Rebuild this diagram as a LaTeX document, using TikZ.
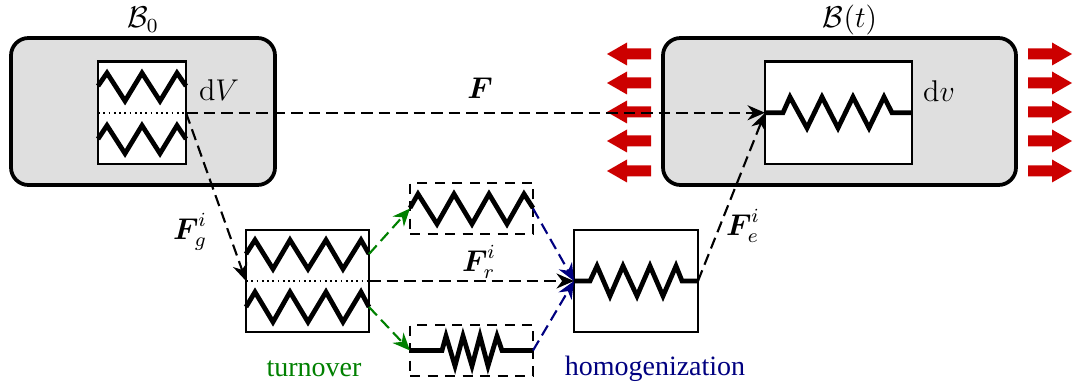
\documentclass[tikz,border=0pt]{standalone}
\usepackage{amsmath}
\usepackage[no-math]{fontspec}
\setmainfont{Liberation Serif}
\usetikzlibrary{fit,arrows.meta}
\definecolor{bodygrey}{HTML}{DFDFDF}
\definecolor{loadred}{HTML}{CC0000}
\definecolor{turngreen}{HTML}{008000}
\definecolor{homblue}{HTML}{000080}
\tikzset{
  every node/.style={font=\fontsize{11.2}{13}\selectfont},
  mathlabel/.style={font=\fontsize{12}{14}\selectfont},
  bodybox/.style={draw=black,fill=bodygrey,line width=1.5pt,rounded corners=7pt,inner sep=0pt,outer sep=0pt},
  cellbox/.style={draw=black,fill=white,line width=.85pt,inner sep=0pt,outer sep=0pt},
  dashbox/.style={draw=black,line width=.85pt,dash pattern=on 4pt off 3pt,inner sep=0pt,outer sep=0pt},
  springline/.style={line width=1.9pt,line join=miter,miter limit=10},
  link/.style={line width=.85pt,dash pattern=on 4.6pt off 2.4pt},
  tipk/.style={-{Stealth[length=7pt,width=6pt]}},
  loadarrow/.style={fill=loadred},
  splitline/.style={line width=.75pt,dash pattern=on .75pt off 1.35pt},
}
\begin{document}
\begin{tikzpicture}[x=.4pt,y=-.4pt]
\useasboundingbox (0,0) rectangle (1073,385);
% bodies
\node[bodybox,fit={(11,38)(275,185)}] (B0) {};
\node[bodybox,fit={(663,38)(1016,185)}] (Bt) {};
\node[cellbox,fit={(98,61.5)(186,164)}] (dV) {};
\node[cellbox,fit={(765,61.5)(912,164)}] (dv) {};
\node[cellbox,fit={(246,230)(369,332)}] (grown) {};
\node[cellbox,fit={(574,230)(698,332)}] (hom) {};
\node[dashbox,fit={(410,183)(533,234)}] (top) {};
\node[dashbox,fit={(410,325)(533,376)}] (bot) {};
% connector ends on the grown cell
\coordinate (gu) at (369,254);
\coordinate (gl) at (369,307);
% springs
\draw[springline] (98,86)--(107,73)--(125,101)--(142,73)--(160,101)--(177,73)--(186,86);
\draw[springline] (98,139)--(107,125.5)--(125,153.5)--(142,125.5)--(160,153.5)--(177,125.5)--(186,139);
\draw[springline] (765,112.75)--(783,112.75)--(790,97)--(807,128)--(822,97)--(838,128)--(853,97)--(869,128)--(884,97)--(892,112.75)--(912,112.75);
\draw[springline] (246,254)--(255,240)--(273,269)--(290,240)--(308,269)--(326,240)--(343,269)--(361,240)--(369,254);
\draw[springline] (246,307)--(255,292)--(273,322)--(290,292)--(308,322)--(326,292)--(343,322)--(361,292)--(369,307);
\draw[springline] (410,208)--(418,194)--(437,224)--(454,194)--(472,224)--(489,194)--(507,224)--(524,194)--(533,208);
\draw[springline] (410,350.5)--(442,350.5)--(446,336)--(455,366)--(463,336)--(472,366)--(480,336)--(488,366)--(497,336)--(502,350.5)--(533,350.5);
\draw[springline] (574,281)--(590,281)--(597,266)--(610,296)--(623,266)--(637,296)--(650,266)--(663,296)--(676,266)--(682,281)--(698,281);
% dotted split lines
\draw[splitline] (dV.west)--(dV.east);
\draw[splitline] (grown.west)--(grown.east);
% load arrows
\foreach \yy in {54,83,112,141,171}{
  \fill[loadarrow] (651,\yy-5.5)--(627,\yy-5.5)--(627,\yy-11.5)--(607,\yy)--(627,\yy+11.5)--(627,\yy+5.5)--(651,\yy+5.5)--cycle;
  \fill[loadarrow] (1028,\yy-5.5)--(1052,\yy-5.5)--(1052,\yy-11.5)--(1072,\yy)--(1052,\yy+11.5)--(1052,\yy+5.5)--(1028,\yy+5.5)--cycle;
}
% connectors
\draw[link,tipk] (dV.east)--(dv.west);
\draw[link,tipk] (dV.east)--(grown.west);
\draw[link,tipk] (hom.east)--(dv.west);
\draw[link,tipk] (grown.east)--(hom.west);
\draw[link,tipk,turngreen] (gu)--(top.west);
\draw[link,tipk,turngreen] (gl)--(bot.west);
\draw[link,tipk,homblue] (top.east)--(hom.west);
\draw[link,tipk,homblue] (bot.east)--(hom.west);
% labels
\node[mathlabel] (lB0) at (143,20) {$\mathcal{B}_0$};
\node[mathlabel] (lBt) at (850,20) {$\mathcal{B}(t)$};
\node[mathlabel] (ldV) at (219,90) {$\mathrm{d}V$};
\node[mathlabel] (ldv) at (939,91) {$\mathrm{d}v$};
\node[mathlabel] (lF) at (480,88) {$\boldsymbol{F}$};
\node[mathlabel] (lFg) at (190,232) {$\boldsymbol{F}_{\!g}^{i}$};
\node[mathlabel] (lFr) at (479,262) {$\boldsymbol{F}_{\!r}^{i}$};
\node[mathlabel] (lFe) at (743,226) {$\boldsymbol{F}_{\!e}^{i}$};
\node[text=turngreen] (lturn) at (314,369) {turnover};
\node[text=homblue] (lhom) at (655,369) {homogenization};
\end{tikzpicture}
\end{document}
